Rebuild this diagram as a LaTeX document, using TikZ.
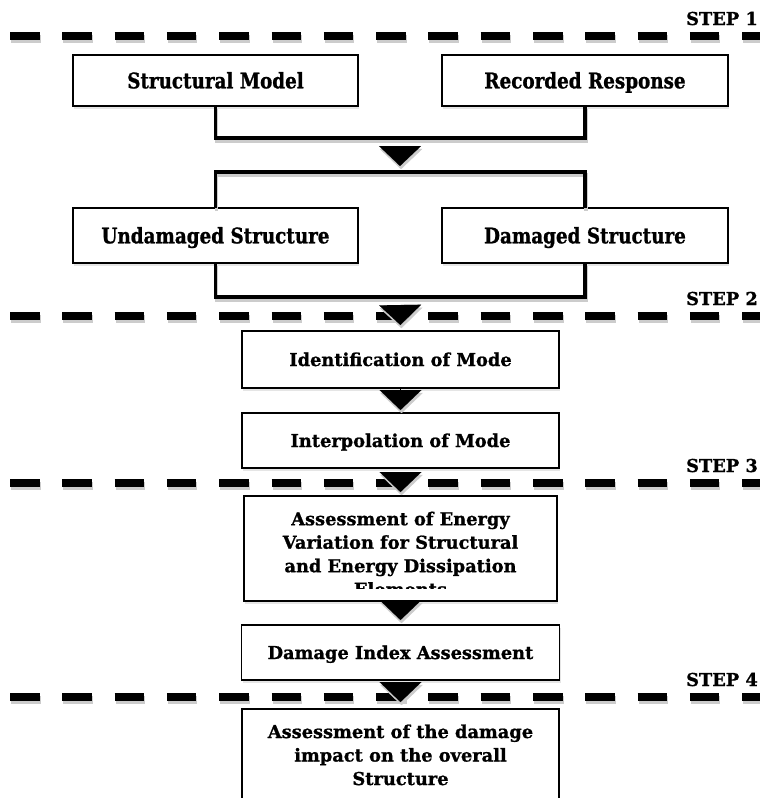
\documentclass[tikz,border=0pt]{standalone}
\usepackage{fontspec}
\usepackage{tikz}
\usetikzlibrary{arrows.meta,positioning,calc,shadows}

\newfontfamily\serifbox{DejaVu Serif}[FakeBold=1]
\newfontfamily\serifcond{DejaVu Serif}[FakeStretch=0.853, FakeBold=1]
\newcommand\boxtext{\serifbox\bfseries\fontsize{17.8pt}{23.5pt}\selectfont}
\newcommand\toptext{\serifcond\bfseries\fontsize{21.5pt}{26pt}\selectfont}

\tikzset{
  topbox/.style={rectangle, draw, line width=1.8pt, fill=white, outer sep=0pt,
                 minimum width=285pt, minimum height=51pt, font=\toptext,
                 text height=15.7pt, text depth=0pt,
                 drop shadow={shadow xshift=1pt, shadow yshift=-2.5pt, opacity=0.2}},
  box/.style={rectangle, draw, line width=1.8pt, fill=white, outer sep=0pt,
              minimum width=317pt, minimum height=55pt, font=\boxtext,
              text height=13pt, text depth=0pt,
              drop shadow={shadow xshift=1pt, shadow yshift=-2.5pt, opacity=0.2}},
  tallbox/.style={rectangle, draw, line width=1.8pt, fill=white, outer sep=0pt,
                  minimum width=317pt, align=center, font=\boxtext, inner ysep=15.5pt,
                  drop shadow={shadow xshift=1pt, shadow yshift=-2.5pt, opacity=0.2}},
  steplbl/.style={anchor=base east, inner sep=0pt, font=\boxtext},
  stepline/.style={line width=7.5pt, dash pattern=on 29.5pt off 22.8pt,
                   preaction={draw=black!20, line width=7.5pt, dash pattern=on 29.5pt off 22.8pt,
                              transform canvas={xshift=1pt, yshift=-3pt}}},
  link/.style={line width=3.5pt,
               preaction={draw=black!20, line width=3.5pt,
                          transform canvas={xshift=1pt, yshift=-3pt}}},
  flow/.style={-{Triangle[width=42pt,length=20pt]}, line width=0.1pt,
               preaction={draw=black!20, transform canvas={xshift=1pt, yshift=-3pt}}}
}

\begin{document}
\begin{tikzpicture}[x=1pt, y=-1pt]
  \useasboundingbox (0,0) rectangle (760,798);
  \clip (0,0) rectangle (760,798);
  \fill[white] (0,0) rectangle (760,798);
  % step separators
  \foreach \y/\n in {36/1, 316/2, 483/3, 697/4} {
    \draw[stepline] (10,\y) -- (760,\y);
    \node[steplbl] (step\n) at (758,\y-11) {STEP \n};
  }
  % step 1
  \node[topbox] (sm) at (215.5,80.5) {Structural Model};
  \node[topbox, right=84pt of sm, minimum width=286pt] (rr) {Recorded Response};
  \node[topbox, below=102pt of sm, minimum height=55pt] (ud) {Undamaged Structure};
  \node[topbox, right=84pt of ud, minimum width=286pt, minimum height=55pt] (ds) {Damaged Structure};
  \coordinate (j1) at (400,138);
  \coordinate (j2) at (400,172);
  \coordinate (j3) at (400,297);
  \draw[link] (sm.south) |- (j1) -| (rr.south);
  \draw[link] (ud.north) |- (j2) -| (ds.north);
  \draw[link] (ud.south) |- (j3) -| (ds.south);
  \draw[flow, shorten <=8pt, shorten >=6pt] (j1) -- (j2);
  % step 2
  \node[box, minimum height=57pt] (id) at (400.5,359.5) {Identification of Mode};
  \draw[flow, shorten <=8pt, shorten >=6pt] (j3) -- (id.north);
  \node[box, below=25pt of id] (ip) {Interpolation of Mode};
  \draw[flow, shorten >=3pt] (id) -- (ip);
  % step 3
  \node[box, below=28pt of ip, minimum width=313pt, minimum height=105pt] (ae) {};
  \begin{scope}
    \clip (ae.north west) rectangle ($(ae.south east)+(0,-13)$);
    \node[font=\boxtext, align=center, anchor=north, inner sep=0pt] (aetext)
      at ($(ae.north)+(0,15.5)$) {Assessment of Energy\\Variation for Structural\\and Energy Dissipation\\Elements};
  \end{scope}
  \draw[flow, shorten <=4pt, shorten >=4pt] (ip) -- (ae);
  \node[box, below=24pt of ae, minimum width=318pt] (di) {Damage Index Assessment};
  \draw[flow, shorten >=5pt] (ae) -- (di);
  % step 4
  \node[tallbox, below=29pt of di] (ai) {Assessment of the damage\\impact on the overall\\Structure};
  \draw[flow, shorten <=2pt, shorten >=7pt] (di) -- (ai);
\end{tikzpicture}
\end{document}
